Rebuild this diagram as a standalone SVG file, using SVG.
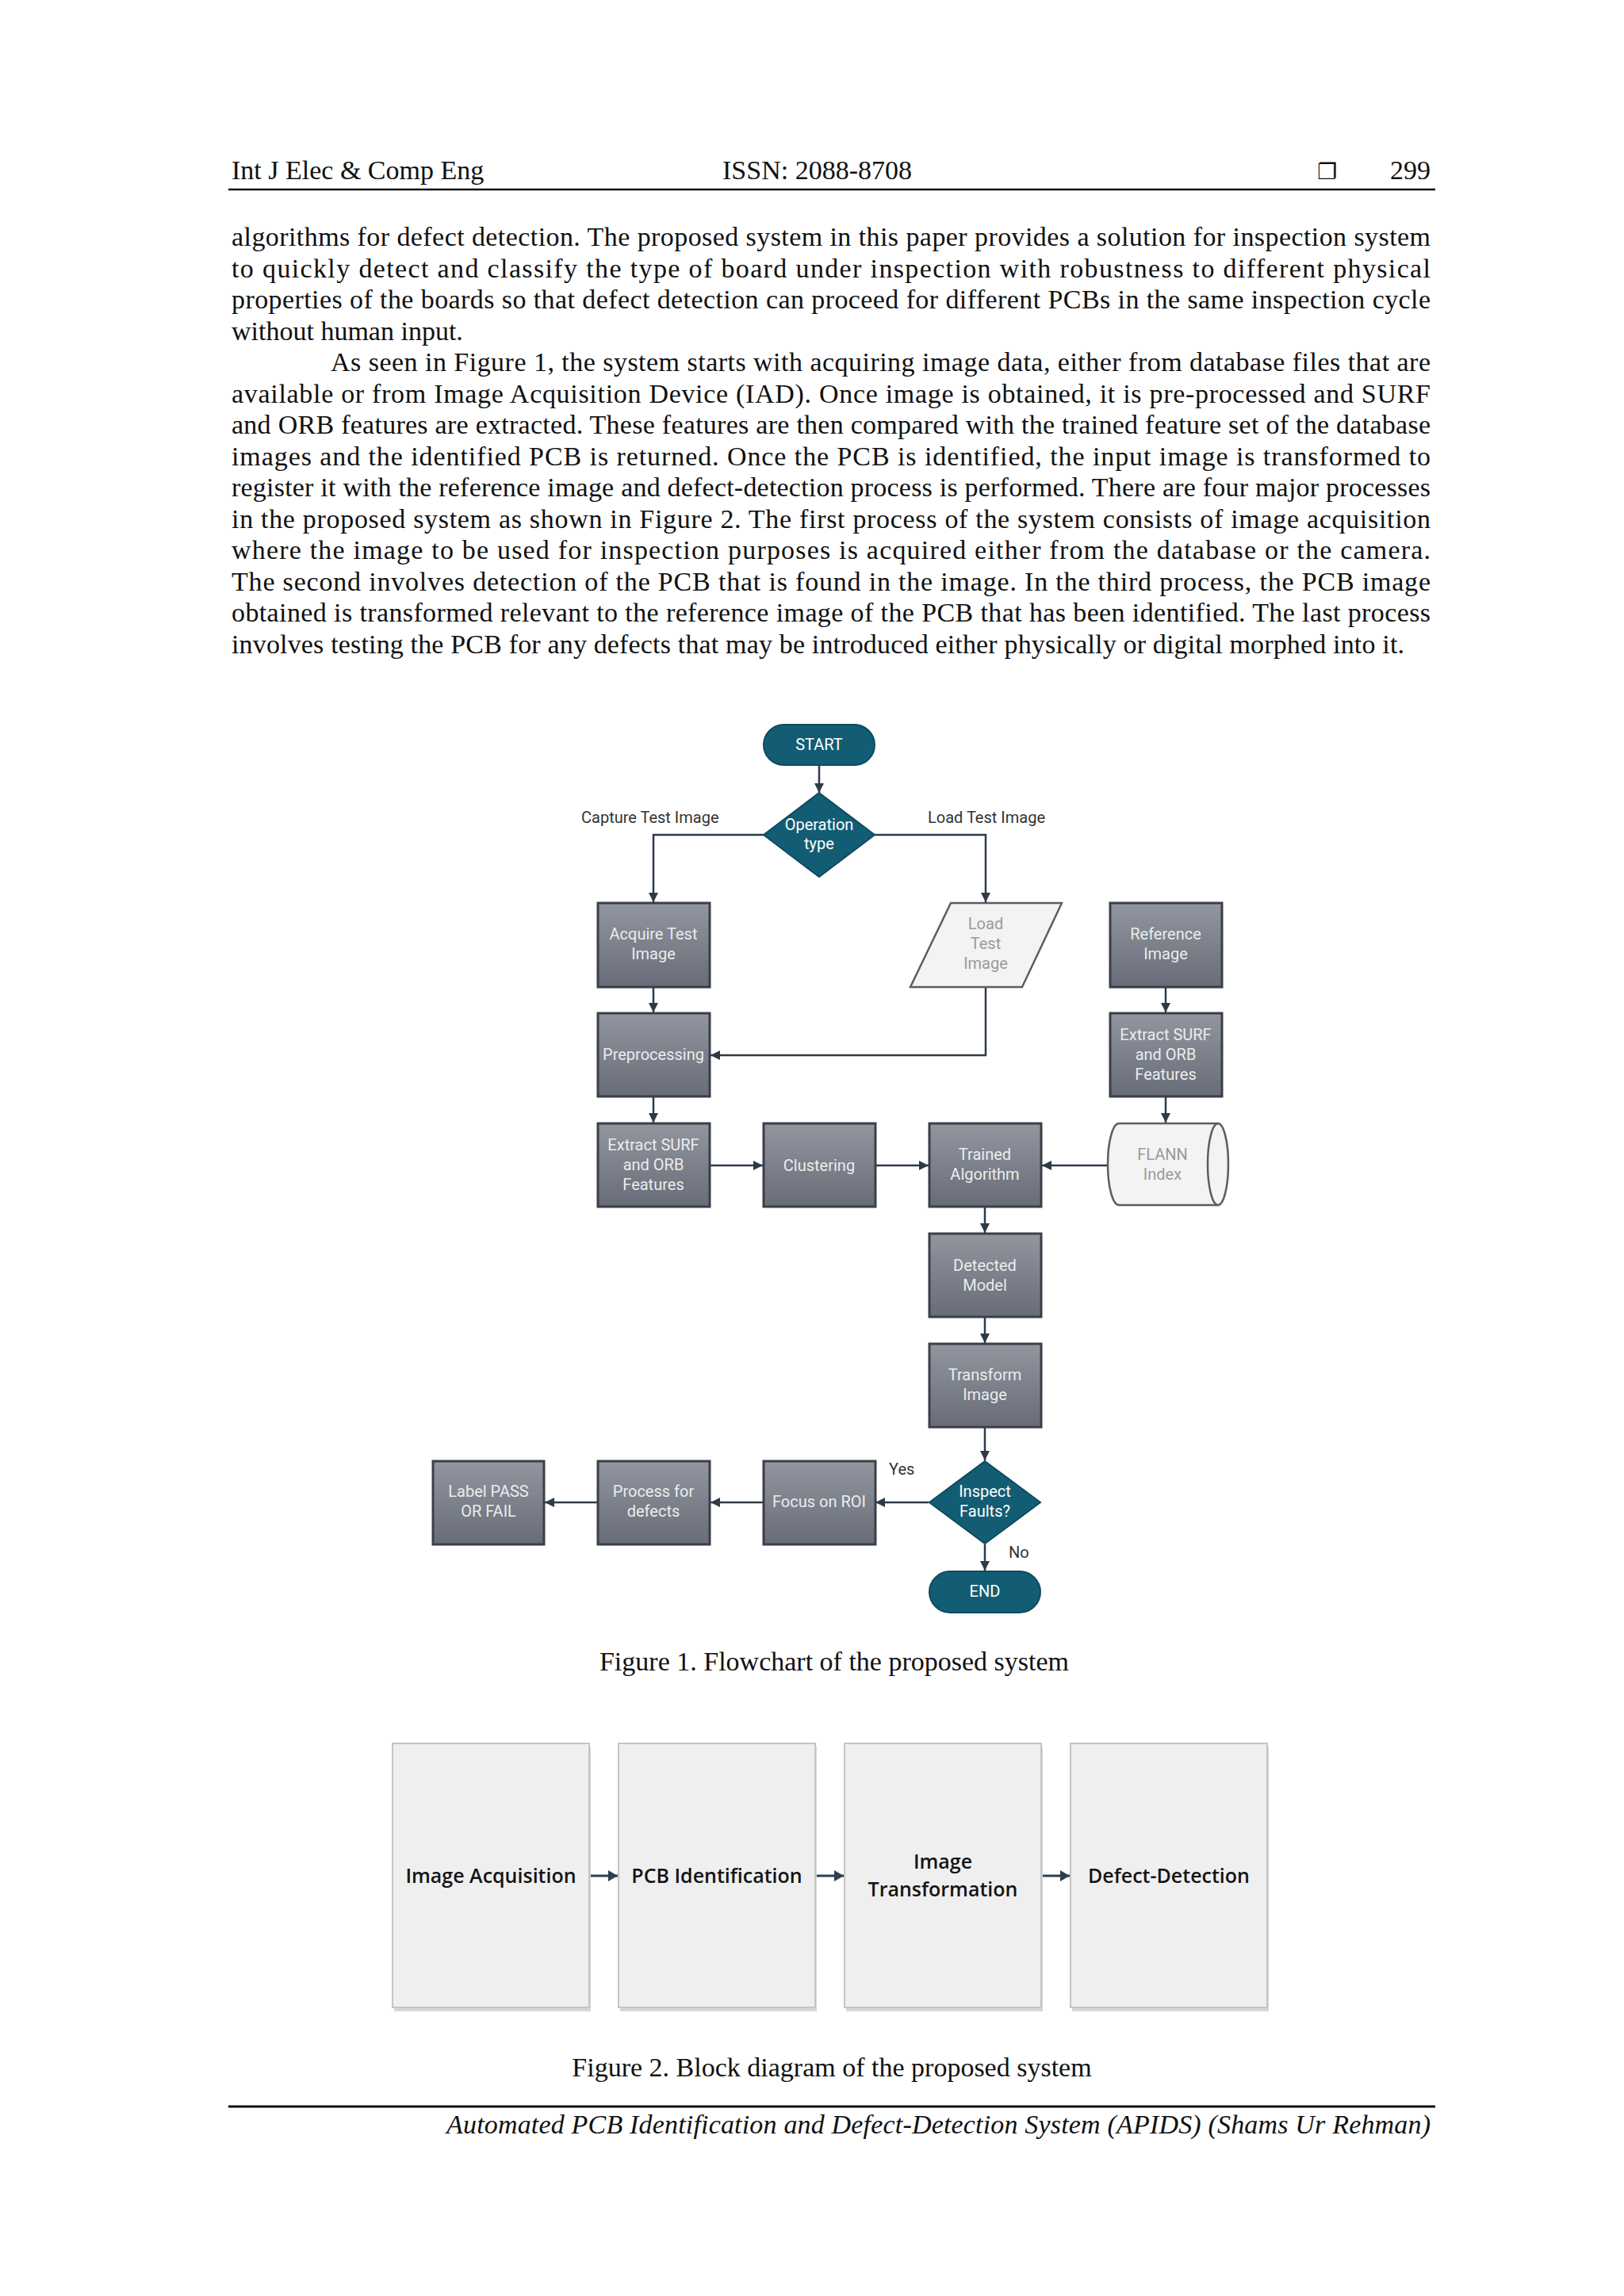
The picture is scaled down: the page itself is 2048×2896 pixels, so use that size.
<svg xmlns="http://www.w3.org/2000/svg" width="2048" height="2896" viewBox="0 0 2048 2896">
<style>
.body{font-family:"Liberation Serif","Times New Roman",serif;font-size:34px;fill:#111}
.ital{font-family:"Liberation Serif","Times New Roman",serif;font-size:34px;font-style:italic;fill:#111}
.box{fill:url(#gbox);stroke:#3b3f48;stroke-width:3}
.term{fill:#135d74;stroke:#0e4b5f;stroke-width:2}
.lt{font-family:Roboto,"Liberation Sans",sans-serif;font-size:20px;fill:#ececec;text-anchor:middle}
.lg{font-family:Roboto,"Liberation Sans",sans-serif;font-size:20px;fill:#9a9a9a;text-anchor:middle}
.el{font-family:Roboto,"Liberation Sans",sans-serif;font-size:20px;fill:#333}
.light{fill:#f3f3f3;stroke:#5a5d63;stroke-width:2.5}
.conn{fill:none;stroke:#2f3a48;stroke-width:2.5}
.blk{fill:#efefef;stroke:#c4c4c4;stroke-width:2}
.blkshadow{fill:#d6d6d6}
.bt{font-family:"Open Sans","Liberation Sans",sans-serif;font-size:25px;font-weight:600;fill:#141414;text-anchor:middle}
.barrow{fill:none;stroke:#2d3f50;stroke-width:3}
</style>
<defs>
<linearGradient id="gbox" x1="0" y1="0" x2="0" y2="1">
<stop offset="0" stop-color="#91969f"/>
<stop offset="1" stop-color="#676c78"/>
</linearGradient>
<marker id="ah" viewBox="0 0 12 12" refX="12" refY="6" markerWidth="12" markerHeight="12" markerUnits="userSpaceOnUse" orient="auto">
<path d="M0,0 L12,6 L0,12 Z" fill="#2f3a48"/>
</marker>
<marker id="bh" viewBox="0 0 12 14" refX="12" refY="7" markerWidth="12" markerHeight="14" markerUnits="userSpaceOnUse" orient="auto">
<path d="M0,0 L12,7 L0,14 Z" fill="#2d3f50"/>
</marker>
</defs>
<rect x="0" y="0" width="2048" height="2896" fill="#ffffff"/>

<g id="header">
<text class="body" x="292" y="226">Int J Elec &amp; Comp Eng</text>
<text class="body" x="911" y="226">ISSN: 2088-8708</text>
<text x="1661" y="226" style="font-family:'DejaVu Sans',sans-serif;font-size:28px;fill:#111">❐</text>
<text class="body" x="1804" y="226" text-anchor="end">299</text>
<line x1="288" y1="239" x2="1810" y2="239" stroke="#111" stroke-width="2.5"/>
</g>

<g id="body-text">
<text class="body" x="292" y="310" textLength="1512" lengthAdjust="spacing">algorithms for defect detection. The proposed system in this paper provides a solution for inspection system</text>
<text class="body" x="292" y="349.5" textLength="1512" lengthAdjust="spacing">to quickly detect and classify the type of board under inspection with robustness to different physical</text>
<text class="body" x="292" y="389" textLength="1512" lengthAdjust="spacing">properties of the boards so that defect detection can proceed for different PCBs in the same inspection cycle</text>
<text class="body" x="292" y="428.5">without human input.</text>
<text class="body" x="417" y="468" textLength="1387" lengthAdjust="spacing">As seen in Figure 1, the system starts with acquiring image data, either from database files that are</text>
<text class="body" x="292" y="507.5" textLength="1512" lengthAdjust="spacing">available or from Image Acquisition Device (IAD). Once image is obtained, it is pre-processed and SURF</text>
<text class="body" x="292" y="547" textLength="1512" lengthAdjust="spacing">and ORB features are extracted. These features are then compared with the trained feature set of the database</text>
<text class="body" x="292" y="586.5" textLength="1512" lengthAdjust="spacing">images and the identified PCB is returned. Once the PCB is identified, the input image is transformed to</text>
<text class="body" x="292" y="626" textLength="1512" lengthAdjust="spacing">register it with the reference image and defect-detection process is performed. There are four major processes</text>
<text class="body" x="292" y="665.5" textLength="1512" lengthAdjust="spacing">in the proposed system as shown in Figure 2. The first process of the system consists of image acquisition</text>
<text class="body" x="292" y="705" textLength="1512" lengthAdjust="spacing">where the image to be used for inspection purposes is acquired either from the database or the camera.</text>
<text class="body" x="292" y="744.5" textLength="1512" lengthAdjust="spacing">The second involves detection of the PCB that is found in the image. In the third process, the PCB image</text>
<text class="body" x="292" y="784" textLength="1512" lengthAdjust="spacing">obtained is transformed relevant to the reference image of the PCB that has been identified. The last process</text>
<text class="body" x="292" y="823.5" textLength="1479" lengthAdjust="spacing">involves testing the PCB for any defects that may be introduced either physically or digital morphed into it.</text>
</g>

<g id="connectors">
<line class="conn" x1="1033" y1="966" x2="1033" y2="1000" marker-end="url(#ah)"/>
<polyline class="conn" points="963,1053 824,1053 824,1138" marker-end="url(#ah)"/>
<polyline class="conn" points="1103,1053 1243,1053 1243,1138" marker-end="url(#ah)"/>
<line class="conn" x1="824" y1="1246" x2="824" y2="1277" marker-end="url(#ah)"/>
<polyline class="conn" points="1243,1246 1243,1331 896,1331" marker-end="url(#ah)"/>
<line class="conn" x1="1470" y1="1246" x2="1470" y2="1277" marker-end="url(#ah)"/>
<line class="conn" x1="824" y1="1384" x2="824" y2="1416" marker-end="url(#ah)"/>
<line class="conn" x1="1470" y1="1384" x2="1470" y2="1416" marker-end="url(#ah)"/>
<line class="conn" x1="896" y1="1470" x2="962" y2="1470" marker-end="url(#ah)"/>
<line class="conn" x1="1105" y1="1470" x2="1171" y2="1470" marker-end="url(#ah)"/>
<line class="conn" x1="1398" y1="1470" x2="1314" y2="1470" marker-end="url(#ah)"/>
<line class="conn" x1="1242" y1="1523" x2="1242" y2="1555" marker-end="url(#ah)"/>
<line class="conn" x1="1242" y1="1662" x2="1242" y2="1694" marker-end="url(#ah)"/>
<line class="conn" x1="1242" y1="1801" x2="1242" y2="1842" marker-end="url(#ah)"/>
<line class="conn" x1="1171" y1="1895" x2="1104" y2="1895" marker-end="url(#ah)"/>
<line class="conn" x1="962" y1="1895" x2="896" y2="1895" marker-end="url(#ah)"/>
<line class="conn" x1="754" y1="1895" x2="687" y2="1895" marker-end="url(#ah)"/>
<line class="conn" x1="1242" y1="1948" x2="1242" y2="1981" marker-end="url(#ah)"/>
<text class="el" x="733" y="1038">Capture Test Image</text>
<text class="el" x="1170" y="1038">Load Test Image</text>
<text class="el" x="1121" y="1860">Yes</text>
<text class="el" x="1272" y="1965">No</text>
</g>

<g id="start">
<rect class="term" x="963" y="914" width="140" height="51" rx="25.5"/>
<text class="lt" x="1033" y="946" style="fill:#fff">START</text>
</g>
<g id="operation-type">
<polygon class="term" points="1033,1000 1103,1053 1033,1106 963,1053"/>
<text class="lt" x="1033" y="1047" style="fill:#fff">Operation</text>
<text class="lt" x="1033" y="1071" style="fill:#fff">type</text>
</g>
<g id="acquire-test-image">
<rect class="box" x="754" y="1139" width="141" height="106"/>
<text class="lt" x="824" y="1185">Acquire Test</text>
<text class="lt" x="824" y="1210">Image</text>
</g>
<g id="load-test-image">
<polygon class="light" points="1199,1139 1339,1139 1289,1245 1148,1245"/>
<text class="lg" x="1243" y="1172">Load</text>
<text class="lg" x="1243" y="1197">Test</text>
<text class="lg" x="1243" y="1222">Image</text>
</g>
<g id="reference-image">
<rect class="box" x="1400" y="1139" width="141" height="106"/>
<text class="lt" x="1470" y="1185">Reference</text>
<text class="lt" x="1470" y="1210">Image</text>
</g>
<g id="preprocessing">
<rect class="box" x="754" y="1278" width="141" height="105"/>
<text class="lt" x="824" y="1337">Preprocessing</text>
</g>
<g id="extract-ref">
<rect class="box" x="1400" y="1278" width="141" height="105"/>
<text class="lt" x="1470" y="1312">Extract SURF</text>
<text class="lt" x="1470" y="1337">and ORB</text>
<text class="lt" x="1470" y="1362">Features</text>
</g>
<g id="extract-test">
<rect class="box" x="754" y="1417" width="141" height="105"/>
<text class="lt" x="824" y="1451">Extract SURF</text>
<text class="lt" x="824" y="1476">and ORB</text>
<text class="lt" x="824" y="1501">Features</text>
</g>
<g id="clustering">
<rect class="box" x="963" y="1417" width="141" height="105"/>
<text class="lt" x="1033" y="1477">Clustering</text>
</g>
<g id="trained-algorithm">
<rect class="box" x="1172" y="1417" width="141" height="105"/>
<text class="lt" x="1242" y="1463">Trained</text>
<text class="lt" x="1242" y="1488">Algorithm</text>
</g>
<g id="flann-index">
<path class="light" d="M1411,1417 L1536,1417 A13,51.5 0 0 1 1536,1520 L1411,1520 A14,51.5 0 0 1 1411,1417 Z"/>
<path class="light" d="M1536,1417 A13,51.5 0 0 0 1536,1520" style="fill:none"/>
<text class="lg" x="1466" y="1463">FLANN</text>
<text class="lg" x="1466" y="1488">Index</text>
</g>
<g id="detected-model">
<rect class="box" x="1172" y="1556" width="141" height="105"/>
<text class="lt" x="1242" y="1603">Detected</text>
<text class="lt" x="1242" y="1628">Model</text>
</g>
<g id="transform-image">
<rect class="box" x="1172" y="1695" width="141" height="105"/>
<text class="lt" x="1242" y="1741">Transform</text>
<text class="lt" x="1242" y="1766">Image</text>
</g>
<g id="inspect-faults">
<polygon class="term" points="1242,1843 1312,1895 1242,1947 1172,1895"/>
<text class="lt" x="1242" y="1888" style="fill:#fff">Inspect</text>
<text class="lt" x="1242" y="1913" style="fill:#fff">Faults?</text>
</g>
<g id="focus-roi">
<rect class="box" x="963" y="1843" width="141" height="105"/>
<text class="lt" x="1033" y="1901">Focus on ROI</text>
</g>
<g id="process-defects">
<rect class="box" x="754" y="1843" width="141" height="105"/>
<text class="lt" x="824" y="1888">Process for</text>
<text class="lt" x="824" y="1913">defects</text>
</g>
<g id="label-pass-fail">
<rect class="box" x="546" y="1843" width="140" height="105"/>
<text class="lt" x="616" y="1888">Label PASS</text>
<text class="lt" x="616" y="1913">OR FAIL</text>
</g>
<g id="end">
<rect class="term" x="1172" y="1982" width="140" height="52" rx="26"/>
<text class="lt" x="1242" y="2014" style="fill:#fff">END</text>
</g>

<text class="body" x="1052" y="2107" text-anchor="middle">Figure 1. Flowchart of the proposed system</text>

<g id="block-connectors">
<line class="barrow" x1="745" y1="2366" x2="779" y2="2366" marker-end="url(#bh)"/>
<line class="barrow" x1="1030" y1="2366" x2="1064" y2="2366" marker-end="url(#bh)"/>
<line class="barrow" x1="1315" y1="2366" x2="1349" y2="2366" marker-end="url(#bh)"/>
</g>
<g id="image-acquisition">
<rect class="blkshadow" x="497" y="2203" width="248" height="334"/>
<rect class="blk" x="495" y="2199" width="248" height="333"/>
<text class="bt" x="619" y="2375">Image Acquisition</text>
</g>
<g id="pcb-identification">
<rect class="blkshadow" x="782" y="2203" width="248" height="334"/>
<rect class="blk" x="780" y="2199" width="248" height="333"/>
<text class="bt" x="904" y="2375">PCB Identification</text>
</g>
<g id="image-transformation">
<rect class="blkshadow" x="1067" y="2203" width="248" height="334"/>
<rect class="blk" x="1065" y="2199" width="248" height="333"/>
<text class="bt" x="1189" y="2357">Image</text>
<text class="bt" x="1189" y="2392">Transformation</text>
</g>
<g id="defect-detection">
<rect class="blkshadow" x="1352" y="2203" width="248" height="334"/>
<rect class="blk" x="1350" y="2199" width="248" height="333"/>
<text class="bt" x="1474" y="2375">Defect-Detection</text>
</g>

<text class="body" x="1049" y="2619" text-anchor="middle">Figure 2. Block diagram of the proposed system</text>

<g id="footer">
<line x1="288" y1="2657" x2="1810" y2="2657" stroke="#111" stroke-width="3"/>
<text class="ital" x="563" y="2691" textLength="1241" lengthAdjust="spacing">Automated PCB Identification and Defect-Detection System (APIDS) (Shams Ur Rehman)</text>
</g>
</svg>
